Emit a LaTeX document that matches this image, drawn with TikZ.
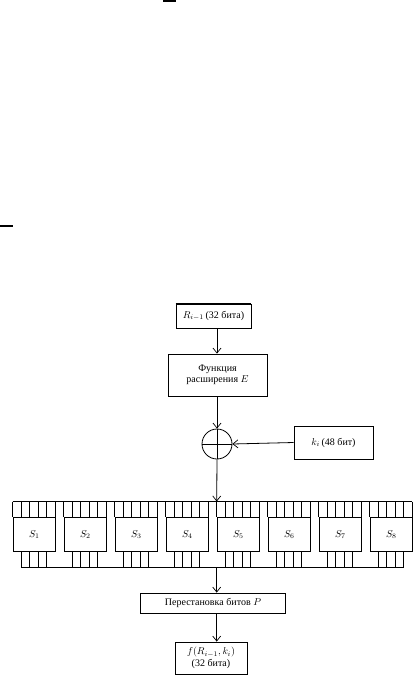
\documentclass[tikz,border=0pt]{standalone}
\usepackage{fontspec}
\setmainfont{Liberation Serif}
\usetikzlibrary{arrows.meta}
\begin{document}
\begin{tikzpicture}[x=1pt,y=-1pt,
  every node/.style={font=\fontsize{10}{11.5}\selectfont},
  blk/.style={draw,line width=0.8pt,inner sep=0pt,align=center},
  ln/.style={line width=0.8pt},
  arr/.style={ln,-{Straight Barb[length=5pt,width=8pt,line width=0.7pt]}},
  scanmark/.style={line width=1.5pt}]
\useasboundingbox (0,0) rectangle (418,689);
% scan marks
\draw[scanmark] (163,0.8) -- (176,0.8);
\draw[scanmark] (0,225.8) -- (13,225.8);
% boxes
\node[blk,minimum width=75pt,minimum height=24pt] (R) at (213.5,316) {$R_{i-1}$\,(32 бита)};
\draw[line width=1.6pt] (R.north west) -- (R.north east);
\node[blk,minimum width=99pt,minimum height=42pt] (E) at (217.5,375) {Функция\\расширения $E$};
\node[draw,circle,line width=0.8pt,minimum size=30pt,inner sep=0pt] (X) at (217,444) {};
\node[blk,minimum width=79pt,minimum height=33pt] (K) at (333.5,442.5) {$k_i$\,(48 бит)};
\node[blk,minimum width=145pt,minimum height=20pt] (P) at (213,603) {Перестановка битов $P$};
\node[blk,minimum width=72pt,minimum height=32pt] (F) at (211,658) {$f(R_{i-1},k_i)$\\(32 бита)};
% S-box row
\coordinate (in) at (216.7,501.5);
\coordinate (out) at (216.7,567.5);
\draw[ln] (12.7,501.5) -- (412.2,501.5);
\draw[ln] (21.2,567.5) -- (403.7,567.5);
\foreach \i in {1,...,8}{
  \pgfmathsetmacro{\L}{12.7+51*(\i-1)}
  \node[blk,minimum width=42.5pt,minimum height=34pt,anchor=north west] (S\i) at (\L,517) {$S_{\i}$};
  \foreach \k in {0,...,5}{
    \draw[ln] (\L+\k*8.5,501.5) -- (\L+\k*8.5,517);
  }
  \foreach \k in {1,...,4}{
    \draw[ln] (\L+\k*8.5,551) -- (\L+\k*8.5,567.5);
  }
}
% connectors
\draw[arr] (R.south -| X) -- (E.north -| X);
\draw[arr] (E.south -| X) -- (X.north);
\draw[ln] (X.north) -- (X.south);
\draw[ln] (X.west) -- (X.east);
\draw[arr] (K.west) -- (X.east);
\draw[arr] (X.south) -- (in);
\draw[arr] (out) -- (P.north -| out);
\draw[arr] (P.south -| out) -- (F.north -| out);
\end{tikzpicture}
\end{document}
